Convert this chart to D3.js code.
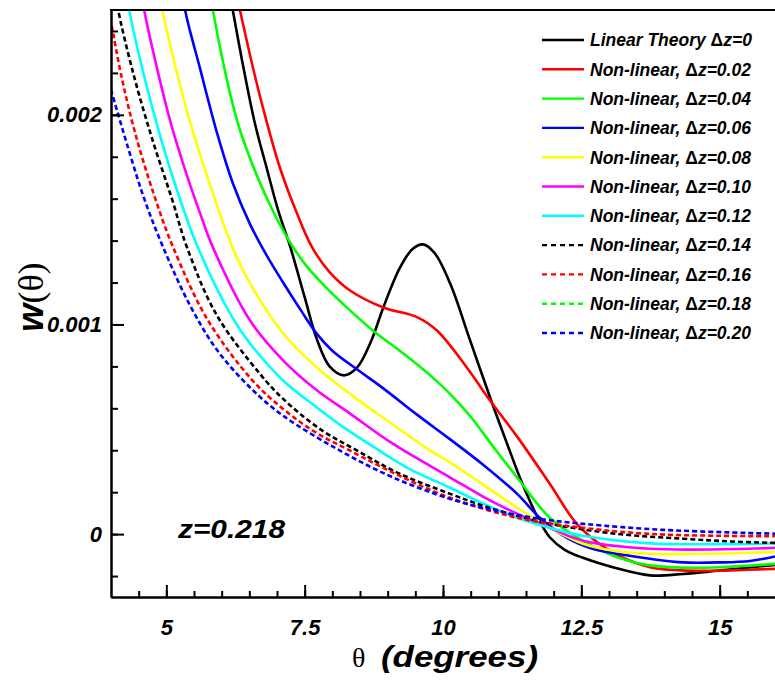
<!DOCTYPE html>
<html>
<head>
<meta charset="utf-8">
<script src="https://cdn.jsdelivr.net/npm/d3@7"></script>
<style>
  html, body { margin: 0; padding: 0; background: #fff; }
  svg { display: block; }
  .tick text { font-family: "Liberation Sans", Arial, sans-serif; font-weight: bold; font-style: italic; font-size: 22px; fill: #000; }
</style>
</head>
<body>
<svg id="chart" width="775" height="680"></svg>
<script>
// Angular correlation w(theta) at z = 0.218; w values are in units of 1e-3.
const xTickValues = [5, 7.5, 10, 12.5, 15];
const xTickLabels = ["5", "7.5", "10", "12.5", "15"];
const yTickValues = [0, 1, 2];
const yTickLabels = ["0", "0.001", "0.002"];

const seriesLabels = [
  "Linear Theory \u0394z=0",
  "Non-linear, \u0394z=0.02",
  "Non-linear, \u0394z=0.04",
  "Non-linear, \u0394z=0.06",
  "Non-linear, \u0394z=0.08",
  "Non-linear, \u0394z=0.10",
  "Non-linear, \u0394z=0.12",
  "Non-linear, \u0394z=0.14",
  "Non-linear, \u0394z=0.16",
  "Non-linear, \u0394z=0.18",
  "Non-linear, \u0394z=0.20"
];
const seriesColors = ["#000000", "#ff0000", "#00ff00", "#0000ff", "#ffff00", "#ff00ff", "#00ffff",
                      "#000000", "#ff0000", "#00ff00", "#0000ff"];
const seriesDashed = [false, false, false, false, false, false, false, true, true, true, true];

// [theta (degrees), w (1e-3)]
const linearDz0 = [[6.1,2.64],[6.2,2.5],[6.39,2.23],[6.6,1.96],[6.82,1.74],[7.02,1.545],[7.24,1.37],[7.5,1.13],
  [7.72,0.93],[7.95,0.8],[8.21,0.757],[8.45,0.795],[8.7,0.92],[8.92,1.08],[9.22,1.27],[9.45,1.36],[9.64,1.382],
  [9.85,1.34],[10.13,1.195],[10.49,0.924],[10.88,0.63],[11.16,0.43],[11.39,0.269],[11.6,0.14],[11.75,0.06],
  [11.93,-0.015],[12.2,-0.075],[12.53,-0.113],[13.1,-0.16],[13.74,-0.197],[14.34,-0.19],[14.95,-0.175],
  [15.5,-0.16],[16,-0.147]];
const nonlinDz002 = [[6.25,2.6],[6.33,2.5],[6.57,2.22],[6.75,2.03],[7.05,1.75],[7.36,1.53],[7.63,1.37],[7.95,1.25],
  [8.32,1.162],[8.92,1.081],[9.53,1.035],[9.89,0.971],[10.43,0.795],[10.85,0.637],[11.34,0.465],[11.93,0.24],
  [12.42,0.049],[13.02,-0.08],[13.74,-0.158],[14.3,-0.173],[14.95,-0.175],[15.5,-0.17],[16,-0.166]];
const nonlinDz004 = [[5.78,2.6],[5.84,2.5],[6.2,2.05],[6.39,1.88],[6.82,1.6],[7.24,1.39],[7.5,1.29],[7.8,1.2],
  [8.32,1.067],[8.77,0.963],[9.22,0.875],[9.53,0.81],[9.8,0.75],[10.13,0.668],[10.5,0.56],[10.97,0.395],
  [11.34,0.27],[11.93,0.078],[12.53,-0.032],[13.15,-0.11],[13.7,-0.148],[14.34,-0.16],[15,-0.158],[16,-0.142]];
const nonlinDz006 = [[5.3,2.6],[5.34,2.5],[5.61,2.22],[5.92,1.91],[6.2,1.675],[6.51,1.48],[6.8,1.335],[7.11,1.2],
  [7.45,1.06],[7.72,0.955],[8.0,0.875],[8.45,0.785],[8.92,0.695],[9.53,0.57],[10.13,0.452],[10.73,0.33],
  [11.34,0.192],[11.75,0.078],[12.24,-0.018],[12.7,-0.07],[13.15,-0.094],[13.8,-0.12],[14.34,-0.135],
  [15,-0.135],[15.55,-0.128],[16,-0.107]];
const nonlinDz008 = [[4.88,2.58],[4.93,2.5],[5.36,2.03],[5.61,1.81],[6.19,1.37],[6.51,1.197],[7.11,0.958],
  [7.72,0.795],[8.32,0.669],[8.92,0.555],[9.77,0.398],[10.13,0.341],[10.73,0.235],[11.34,0.126],[11.93,0.03],
  [12.53,-0.046],[13.1,-0.08],[13.74,-0.094],[14.5,-0.095],[15.55,-0.089],[16,-0.085]];
const nonlinDz010 = [[4.56,2.58],[4.6,2.5],[5.04,2.0],[5.3,1.77],[5.61,1.53],[5.84,1.369],[6.51,1.02],[7.11,0.829],
  [7.72,0.686],[8.32,0.575],[9.1,0.43],[10.13,0.27],[10.73,0.178],[11.34,0.097],[11.93,0.03],[12.53,-0.032],
  [13.74,-0.07],[15.5,-0.07],[16,-0.065]];
const nonlinDz012 = [[4.3,2.56],[4.33,2.5],[4.74,2.04],[5.07,1.74],[5.55,1.38],[6.2,1.03],[6.51,0.91],[7.11,0.733],
  [7.72,0.604],[8.2,0.51],[8.81,0.405],[9.4,0.31],[10.13,0.221],[10.73,0.145],[11.34,0.078],[11.93,0.03],
  [12.53,-0.008],[13.74,-0.044],[15,-0.048],[16,-0.045]];
const nonlinDz014 = [[4.1,2.56],[4.13,2.5],[4.4,2.2],[4.75,1.88],[5.1,1.6],[5.37,1.37],[5.91,1.045],[6.69,0.765],
  [7.11,0.645],[7.8,0.497],[8.45,0.398],[9.2,0.29],[10.13,0.192],[10.73,0.135],[11.34,0.087],[11.93,0.049],
  [13.15,0.001],[14.34,-0.022],[15.2,-0.035],[16,-0.042]];
const nonlinDz016 = [[3.95,2.5],[4.0,2.44],[4.2,2.17],[4.45,1.9],[4.8,1.6],[5.12,1.37],[5.74,1.025],[6.55,0.735],
  [7.11,0.597],[7.7,0.485],[8.32,0.398],[9.2,0.28],[10.13,0.173],[11.34,0.078],[12.53,0.03],[13.74,0.001],
  [15,-0.008],[16,-0.01]];
const nonlinDz018 = [];
const nonlinDz020 = [[4.0,2.12],[4.3,1.85],[4.6,1.6],[4.94,1.37],[5.43,1.09],[5.92,0.877],[6.55,0.69],[7.11,0.565],
  [8.14,0.398],[9.1,0.27],[10.13,0.168],[10.9,0.115],[11.75,0.073],[12.53,0.049],[14,0.02],[16,0.002]];

const seriesData = [linearDz0, nonlinDz002, nonlinDz004, nonlinDz006, nonlinDz008, nonlinDz010,
                    nonlinDz012, nonlinDz014, nonlinDz016, nonlinDz018, nonlinDz020];

const svg = d3.select("#chart");
const plot = { left: 111, right: 775, top: 10, bottom: 597 };

const x = d3.scaleLinear().domain([4, 16]).range([plot.left, plot.right]);
const y = d3.scaleLinear().domain([-0.3, 2.5]).range([plot.bottom, plot.top]);

svg.append("defs").append("clipPath").attr("id", "plot-clip")
  .append("rect")
  .attr("x", plot.left).attr("y", plot.top)
  .attr("width", plot.right - plot.left).attr("height", plot.bottom - plot.top);

// curves
const line = d3.line().x(d => x(d[0])).y(d => y(d[1])).curve(d3.curveCatmullRom.alpha(0.5));
const curves = svg.append("g").attr("clip-path", "url(#plot-clip)");
seriesData.forEach((data, i) => {
  if (!data.length) return;
  curves.append("path")
    .datum(data)
    .attr("d", line)
    .attr("fill", "none")
    .attr("stroke", seriesColors[i])
    .attr("stroke-width", 2.6)
    .attr("stroke-dasharray", seriesDashed[i] ? "5,3" : null)
    .attr("stroke-linejoin", "round");
});

// axes
function styleAxis(g) {
  g.select(".domain").attr("stroke", "#000").attr("stroke-width", 2);
  g.selectAll(".tick line").attr("stroke", "#000").attr("stroke-width", 2);
}

svg.append("g")
  .attr("transform", `translate(0,${plot.bottom})`)
  .call(d3.axisBottom(x).tickValues(d3.range(4.5, 16, 0.5)).tickSize(-6).tickSizeOuter(0).tickFormat(""))
  .call(styleAxis);
svg.append("g")
  .attr("transform", `translate(0,${plot.bottom})`)
  .call(d3.axisBottom(x).tickValues(xTickValues).tickSize(-12).tickSizeOuter(0).tickPadding(22)
    .tickFormat((d, i) => xTickLabels[i]))
  .call(styleAxis);

svg.append("g")
  .attr("transform", `translate(${plot.left},0)`)
  .call(d3.axisLeft(y).tickValues(d3.range(-0.2, 2.5, 0.2)).tickSize(-7).tickSizeOuter(0).tickFormat(""))
  .call(styleAxis);
svg.append("g")
  .attr("transform", `translate(${plot.left},0)`)
  .call(d3.axisLeft(y).tickValues(yTickValues).tickSize(-13).tickSizeOuter(0).tickPadding(9)
    .tickFormat((d, i) => yTickLabels[i]))
  .call(styleAxis);

// top frame line
svg.append("line")
  .attr("x1", plot.left - 1).attr("x2", plot.right)
  .attr("y1", plot.top).attr("y2", plot.top)
  .attr("stroke", "#000").attr("stroke-width", 2);

// axis titles
const yTitle = svg.append("text")
  .attr("transform", "translate(43,297) rotate(-90)")
  .attr("text-anchor", "middle")
  .attr("font-size", 36);
yTitle.append("tspan").attr("font-family", "'Liberation Sans', Arial, sans-serif")
  .attr("font-weight", "bold").attr("font-style", "italic").text("w");
yTitle.append("tspan").attr("font-family", "'Liberation Serif', 'Times New Roman', serif").text("(\u03b8)");

svg.append("text")
  .attr("x", 352).attr("y", 667)
  .attr("font-family", "'Liberation Serif', 'Times New Roman', serif")
  .attr("font-size", 28)
  .text("\u03b8");
svg.append("text")
  .attr("x", 381).attr("y", 667)
  .attr("font-family", "'Liberation Sans', Arial, sans-serif")
  .attr("font-weight", "bold").attr("font-style", "italic")
  .attr("font-size", 29)
  .attr("textLength", 157).attr("lengthAdjust", "spacingAndGlyphs")
  .text("(degrees)");

svg.append("text")
  .attr("x", 178).attr("y", 538)
  .attr("font-family", "'Liberation Sans', Arial, sans-serif")
  .attr("font-weight", "bold").attr("font-style", "italic")
  .attr("font-size", 25)
  .attr("textLength", 107).attr("lengthAdjust", "spacingAndGlyphs")
  .text("z=0.218");

// legend
const legend = svg.append("g").attr("transform", "translate(542,40)");
seriesLabels.forEach((label, i) => {
  const row = legend.append("g").attr("transform", `translate(0,${i * 29.3})`);
  row.append("line")
    .attr("x1", 0).attr("x2", 42).attr("y1", 0).attr("y2", 0)
    .attr("stroke", seriesColors[i]).attr("stroke-width", 2.4)
    .attr("stroke-dasharray", seriesDashed[i] ? "5,4" : null);
  const t = row.append("text")
    .attr("x", 48).attr("y", 0).attr("dy", "0.36em")
    .attr("font-family", "'Liberation Sans', Arial, sans-serif")
    .attr("font-weight", "bold").attr("font-style", "italic")
    .attr("font-size", 17.5);
  const parts = label.split("\u0394");
  t.append("tspan").text(parts[0]);
  t.append("tspan").attr("font-style", "normal").text("\u0394");
  t.append("tspan").text(parts[1]);
});
</script>
</body>
</html>
